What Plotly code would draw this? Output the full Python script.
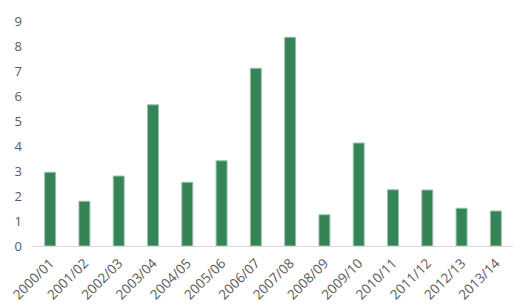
import plotly.graph_objects as go

categories = ["2000/01", "2001/02", "2002/03", "2003/04", "2004/05", "2005/06", "2006/07",
              "2007/08", "2008/09", "2009/10", "2010/11", "2011/12", "2012/13", "2013/14"]
values = [2.95, 1.79, 2.8, 5.65, 2.55, 3.41, 7.11, 8.35, 1.25, 4.12, 2.25, 2.24, 1.51, 1.4]
y_ticks = list(range(0, 10))

fig = go.Figure(go.Bar(
    x=categories, y=values,
    marker=dict(color="#358457", line=dict(color="#9cc2aa", width=1)),
))
fig.update_layout(
    width=520, height=307,
    margin=dict(l=33, r=7, t=21, b=61),
    paper_bgcolor="white", plot_bgcolor="white",
    bargap=0.68,
    showlegend=False,
    font=dict(family="Open Sans, sans-serif", size=13, color="#595959"),
)
fig.update_xaxes(
    showline=True, linecolor="#d9d9d9", linewidth=1,
    tickangle=-45, ticks="outside", tickcolor="rgba(0,0,0,0)", ticklen=3,
    showgrid=False, automargin=False,
    tickfont=dict(size=13.5, color="#595959"),
)
fig.update_yaxes(
    range=[0, 9], tickvals=y_ticks, showgrid=False, zeroline=False,
    showline=False, ticks="", ticklabelstandoff=10, automargin=False,
    tickfont=dict(size=13, color="#595959"),
)
fig.write_html("out.html")
